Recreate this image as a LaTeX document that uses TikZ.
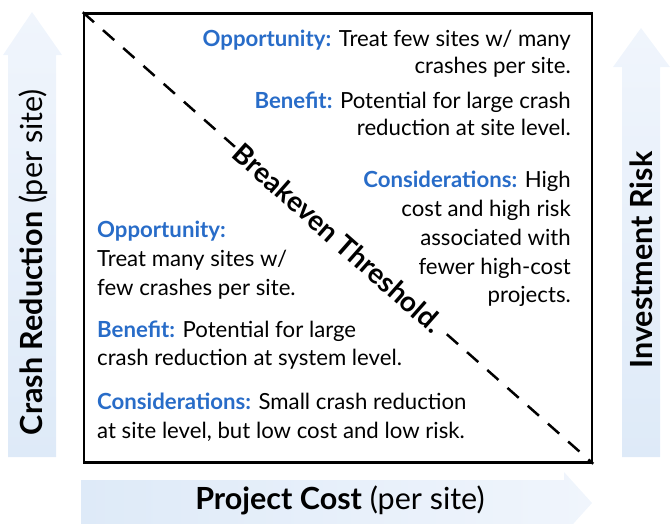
\documentclass[tikz,border=0pt]{standalone}
\usepackage{fontspec}
\setmainfont{Lato}

\definecolor{labelblue}{RGB}{40,108,200}
\definecolor{arrowblue}{RGB}{222,234,248}
\definecolor{arrowfade}{RGB}{240,245,252}

\newcommand{\headword}[1]{{\color{labelblue}\bfseries #1}}

\tikzset{%
  body text/.style={
    font=\fontsize{22.2}{26}\selectfont,
    inner sep=0pt
  },
  axis label/.style={
    font=\fontsize{30.5}{34}\selectfont,
    inner sep=0pt
  },
  threshold/.style={
    font=\fontsize{28}{32}\selectfont\bfseries,
    sloped,
    fill=white,
    inner sep=3pt
  },
}

\begin{document}
\begin{tikzpicture}[x=1pt, y=-1pt]

    \useasboundingbox (0,0) rectangle (671,523);

    \begin{scope}
      \clip (0,0) rectangle (671,523);
      \shade [bottom color=arrowblue, top color=arrowfade]
        (8,457) -- (8,55) -- (3,55) -- (32,12) -- (62,55) -- (56,55) -- (56,457) -- cycle;
      \shade [bottom color=arrowblue, top color=arrowfade]
        (622,457) -- (622,67) -- (613,67) -- (641,28) -- (670,67) -- (660,67) -- (660,457) -- cycle;
      \shade [left color=arrowblue, right color=arrowfade]
        (81,480) -- (564,480) -- (564,472) -- (592,503) -- (564,534) -- (81,534) -- cycle;
    \end{scope}

    \node [axis label, rotate=90] (crash-label) at (33,262)
      {\textbf{Crash Reduction} (per site)};
    \node [axis label, rotate=90] (risk-label) at (641,260)
      {\textbf{Investment Risk}};
    \node [axis label] (cost-label) at (340,500)
      {\textbf{Project Cost} (per site)};

    \node [draw, line width=2.5pt, minimum width=508, minimum height=449, inner sep=0pt]
      (frame) at (338,238) {};

    \draw [line width=2.5pt, dash pattern=on 15pt off 12pt]
      (frame.north west) -- node [threshold] (threshold-label) {Breakeven Threshold.}
      (frame.south east);

    \foreach \y/\t [count=\i] in {
        46/{\headword{Opportunity:} Treat few sites w/ many},
        73/{crashes per site.},
        108/{\headword{Benefit:} Potential for large crash},
        135/{reduction at site level.},
        187/{\headword{Considerations:} High},
        216/{cost and high risk},
        245/{associated with},
        274/{fewer high-cost},
        302/{projects.}}
      \node [body text, anchor=base east] (upper-\i) at (571,\y) {\t};

    \foreach \y/\t [count=\i] in {
        237/{\headword{Opportunity:}},
        266/{Treat many sites w/},
        295/{few crashes per site.},
        337/{\headword{Benefit:} Potential for large},
        365/{crash reduction at system level.},
        409/{\headword{Considerations:} Small crash reduction},
        438/{at site level, but low cost and low risk.}}
      \node [body text, anchor=base west] (lower-\i) at (97,\y) {\t};

\end{tikzpicture}
\end{document}
